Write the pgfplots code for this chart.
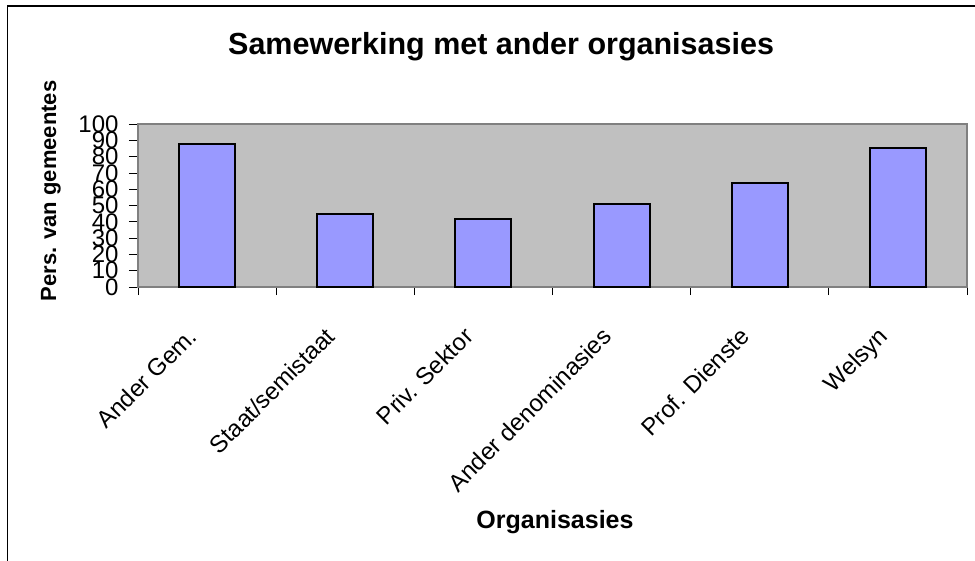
\documentclass[border=0pt]{standalone}
\usepackage{pgfplots}
\pgfplotsset{compat=1.18}
\usepackage{fontspec}
\setmainfont{Liberation Sans}
\definecolor{barblue}{HTML}{9999FF}
\definecolor{plotgray}{HTML}{C0C0C0}
\definecolor{framegray}{HTML}{808080}
\begin{document}
\begin{tikzpicture}
\path[use as bounding box] (0,0) rectangle (975pt,-561pt);
\draw[line width=1.5pt] (7.5pt,-561pt) -- (7.5pt,-6pt) -- (975pt,-6pt);
\begin{axis}[
  at={(138pt,-287pt)}, anchor=south west,
  scale only axis, width=829pt, height=163pt,
  xmin=-0.5, xmax=5.5, ymin=0, ymax=100,
  axis background/.style={fill=plotgray},
  axis line style={draw=framegray, line width=1.2pt},
  ybar, bar width=56pt,
  xtick={0,...,5},
  xticklabels={Ander Gem., Staat/semistaat, Priv. Sektor, Ander denominasies, Prof. Dienste, Welsyn},
  major x tick style={draw=none},
  minor xtick={-0.5,0.5,...,5.5},
  minor tick length=8pt,
  ytick={0,10,...,100},
  major tick length=9pt,
  tick align=outside,
  xtick pos=bottom, ytick pos=left,
  every tick/.style={black, line width=0.8pt},
  /pgf/number format/assume math mode=true,
  tick label style={font=\fontsize{24}{27}\selectfont},
  xticklabel style={xshift=-21pt, yshift=-25pt, rotate=45, anchor=north east},
  yticklabel style={xshift=-7pt},
  title={Samewerking met ander organisasies},
  title style={at={(axis description cs:0.438,1.435)}, anchor=center, font=\fontsize{30.5}{35}\selectfont\bfseries},
  xlabel={Organisasies},
  xlabel style={at={(axis description cs:0.503,-1.442)}, anchor=center, font=\fontsize{25}{29}\selectfont\bfseries},
  ylabel={Pers. van gemeentes},
  ylabel style={at={(axis description cs:-0.105,0.589)}, anchor=center, font=\fontsize{22}{26}\selectfont\bfseries},
]
\addplot[fill=barblue, draw=black, line width=2pt] coordinates {(0,88) (1,45) (2,42) (3,51) (4,64) (5,85)};
\end{axis}
\end{tikzpicture}
\end{document}
